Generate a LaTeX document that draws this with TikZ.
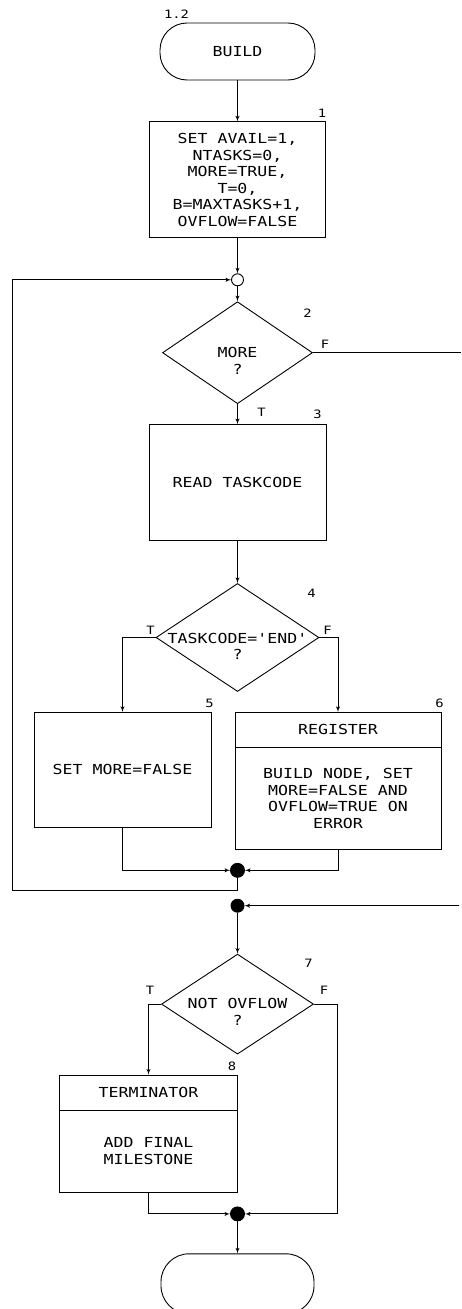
\documentclass[tikz,border=0pt]{standalone}
\usepackage{fontspec}
\usepackage{tikz}
\usetikzlibrary{shapes,arrows,positioning}

\newfontfamily\plotfont{DejaVu Sans Mono}[FakeStretch=1.2]
\newcommand{\flowfont}{\plotfont\fontsize{13.8}{16.6}\selectfont}
\newcommand{\tagfont}{\plotfont\fontsize{11.5}{13}\selectfont}

\begin{document}
\begin{tikzpicture}[node distance=2cm, auto, line width=0.9pt]
    \tikzstyle{block} = [rectangle, draw, align=center, font=\flowfont, minimum width=177pt, minimum height=116pt, inner sep=2pt]
    \tikzstyle{term} = [rectangle, draw, rounded corners=27pt, font=\flowfont, minimum width=155pt, minimum height=57pt]
    \tikzstyle{decision} = [diamond, draw, minimum width=150pt, minimum height=102pt, inner sep=0pt]
    \tikzstyle{dtext} = [align=center, font=\flowfont, inner sep=0pt]
    \tikzstyle{junc} = [circle, draw, minimum size=12pt, inner sep=0pt]
    \tikzstyle{dot} = [circle, draw, fill=black, minimum size=13pt, inner sep=0pt]
    \tikzstyle{tag} = [font=\tagfont, inner sep=0pt]
    \tikzstyle{line} = [draw, -latex']

    \useasboundingbox (0,0) rectangle (461pt,-1309pt);

    % initialisation
    \node [term] (build) at (237.5pt,-51.5pt) {BUILD};
    \node [block, below=41pt of build, minimum width=176pt] (init) {SET AVAIL=1,\\NTASKS=0,\\MORE=TRUE,\\T=0,\\B=MAXTASKS+1,\\OVFLOW=FALSE};
    \node [junc, below=35pt of init] (j1) {};

    % read loop
    \node [decision, below=15pt of j1] (more) {};
    \node [dtext] (moretxt) at ([yshift=-8pt]more) {MORE\\?};
    \node [block, below=20pt of more] (read) {READ TASKCODE};
    \node [decision, below=42pt of read, minimum width=163pt, minimum height=108pt] (isend) {};
    \node [dtext] (isendtxt) at ([yshift=-9pt]isend) {TASKCODE='END'\\?};
    \node [block, below=20pt of isend, xshift=-115pt, minimum height=115pt] (stopmore) {SET MORE=FALSE};
    \node [block, below=20pt of isend, xshift=100.5pt, minimum width=206pt, minimum height=35pt] (reg) {REGISTER};
    \node [block, below=-0.9pt of reg, minimum width=206pt, minimum height=102pt] (regbody) {BUILD NODE, SET\\MORE=FALSE AND\\OVFLOW=TRUE ON\\ERROR};
    \coordinate (c2) at (regbody.south -| isend.south);
    \node [dot, below=13pt of c2, minimum size=14pt] (j2) {};
    \coordinate [below=13pt of j2] (lp);
    \coordinate [left=225.5pt of lp] (lc);

    % finish
    \node [dot, below=21pt of j2] (j3) {};
    \coordinate [right=215pt of j3.east] (j3in);
    \coordinate [right=148pt of more.east] (moreout);
    \node [decision, below=41pt of j3, minimum width=152pt, minimum height=100pt] (ok) {};
    \node [dtext] (oktxt) at ([yshift=-8pt]ok) {NOT OVFLOW\\?};
    \node [block, below=20pt of ok, xshift=-89pt, minimum width=178pt, minimum height=35pt] (term8) {TERMINATOR};
    \node [block, below=-0.9pt of term8, minimum width=178pt, minimum height=82pt] (term8body) {ADD FINAL\\MILESTONE};
    \coordinate [right=23pt of ok.east] (okr);
    \coordinate (c4) at (term8body.south -| ok.south);
    \node [dot, below=14pt of c4, minimum size=14pt] (j4) {};
    \node [term, below=32pt of j4, minimum width=153pt, minimum height=60pt, rounded corners=28pt] (stop) {};

    % numbers and branch letters
    \node [tag] at ([xshift=17pt,yshift=8pt]build.north west) {1.2};
    \node [tag] at ([xshift=-4pt,yshift=8pt]init.north east) {1};
    \node [tag] at ([xshift=70pt,yshift=-12pt]more.north) {2};
    \node [tag] at ([xshift=12pt,yshift=8pt]more.east) {F};
    \node [tag] at ([xshift=24pt,yshift=-8pt]more.south) {T};
    \node [tag] at ([xshift=-9pt,yshift=10pt]read.north east) {3};
    \node [tag] at ([xshift=74pt,yshift=-10pt]isend.north) {4};
    \node [tag] at ([xshift=-5pt,yshift=7pt]isend.west) {T};
    \node [tag] at ([xshift=8pt,yshift=7pt]isend.east) {F};
    \node [tag] at ([xshift=-2pt,yshift=9pt]stopmore.north east) {5};
    \node [tag] at ([xshift=-2pt,yshift=9pt]reg.north east) {6};
    \node [tag] at ([xshift=71pt,yshift=-10pt]ok.north) {7};
    \node [tag] at ([xshift=-11pt,yshift=14pt]ok.west) {T};
    \node [tag] at ([xshift=10pt,yshift=14pt]ok.east) {F};
    \node [tag] at ([xshift=-6pt,yshift=8pt]term8.north east) {8};

    \path [line] (build) -- (init);
    \path [line] (init) -- (j1);
    \path [line] (j1) -- (more);
    \path [line] (more) -- (read);
    \draw (more.east) -- (moreout);
    \path [line] (read) -- (isend);
    \path [line] (isend.west) -| (stopmore);
    \path [line] (isend.east) -| (reg);
    \path [line] (stopmore) |- (j2);
    \path [line] (regbody) |- (j2);
    \path [line] (j2) -- (lp) -- (lc) |- (j1);
    \path [line] (j3in) -- (j3);
    \path [line] (j3) -- (ok);
    \path [line] (ok.west) -| (term8);
    \path [line] (ok.east) -- (okr) |- (j4);
    \path [line] (term8body) |- (j4);
    \path [line] (j4) -- (stop);
\end{tikzpicture}
\end{document}
